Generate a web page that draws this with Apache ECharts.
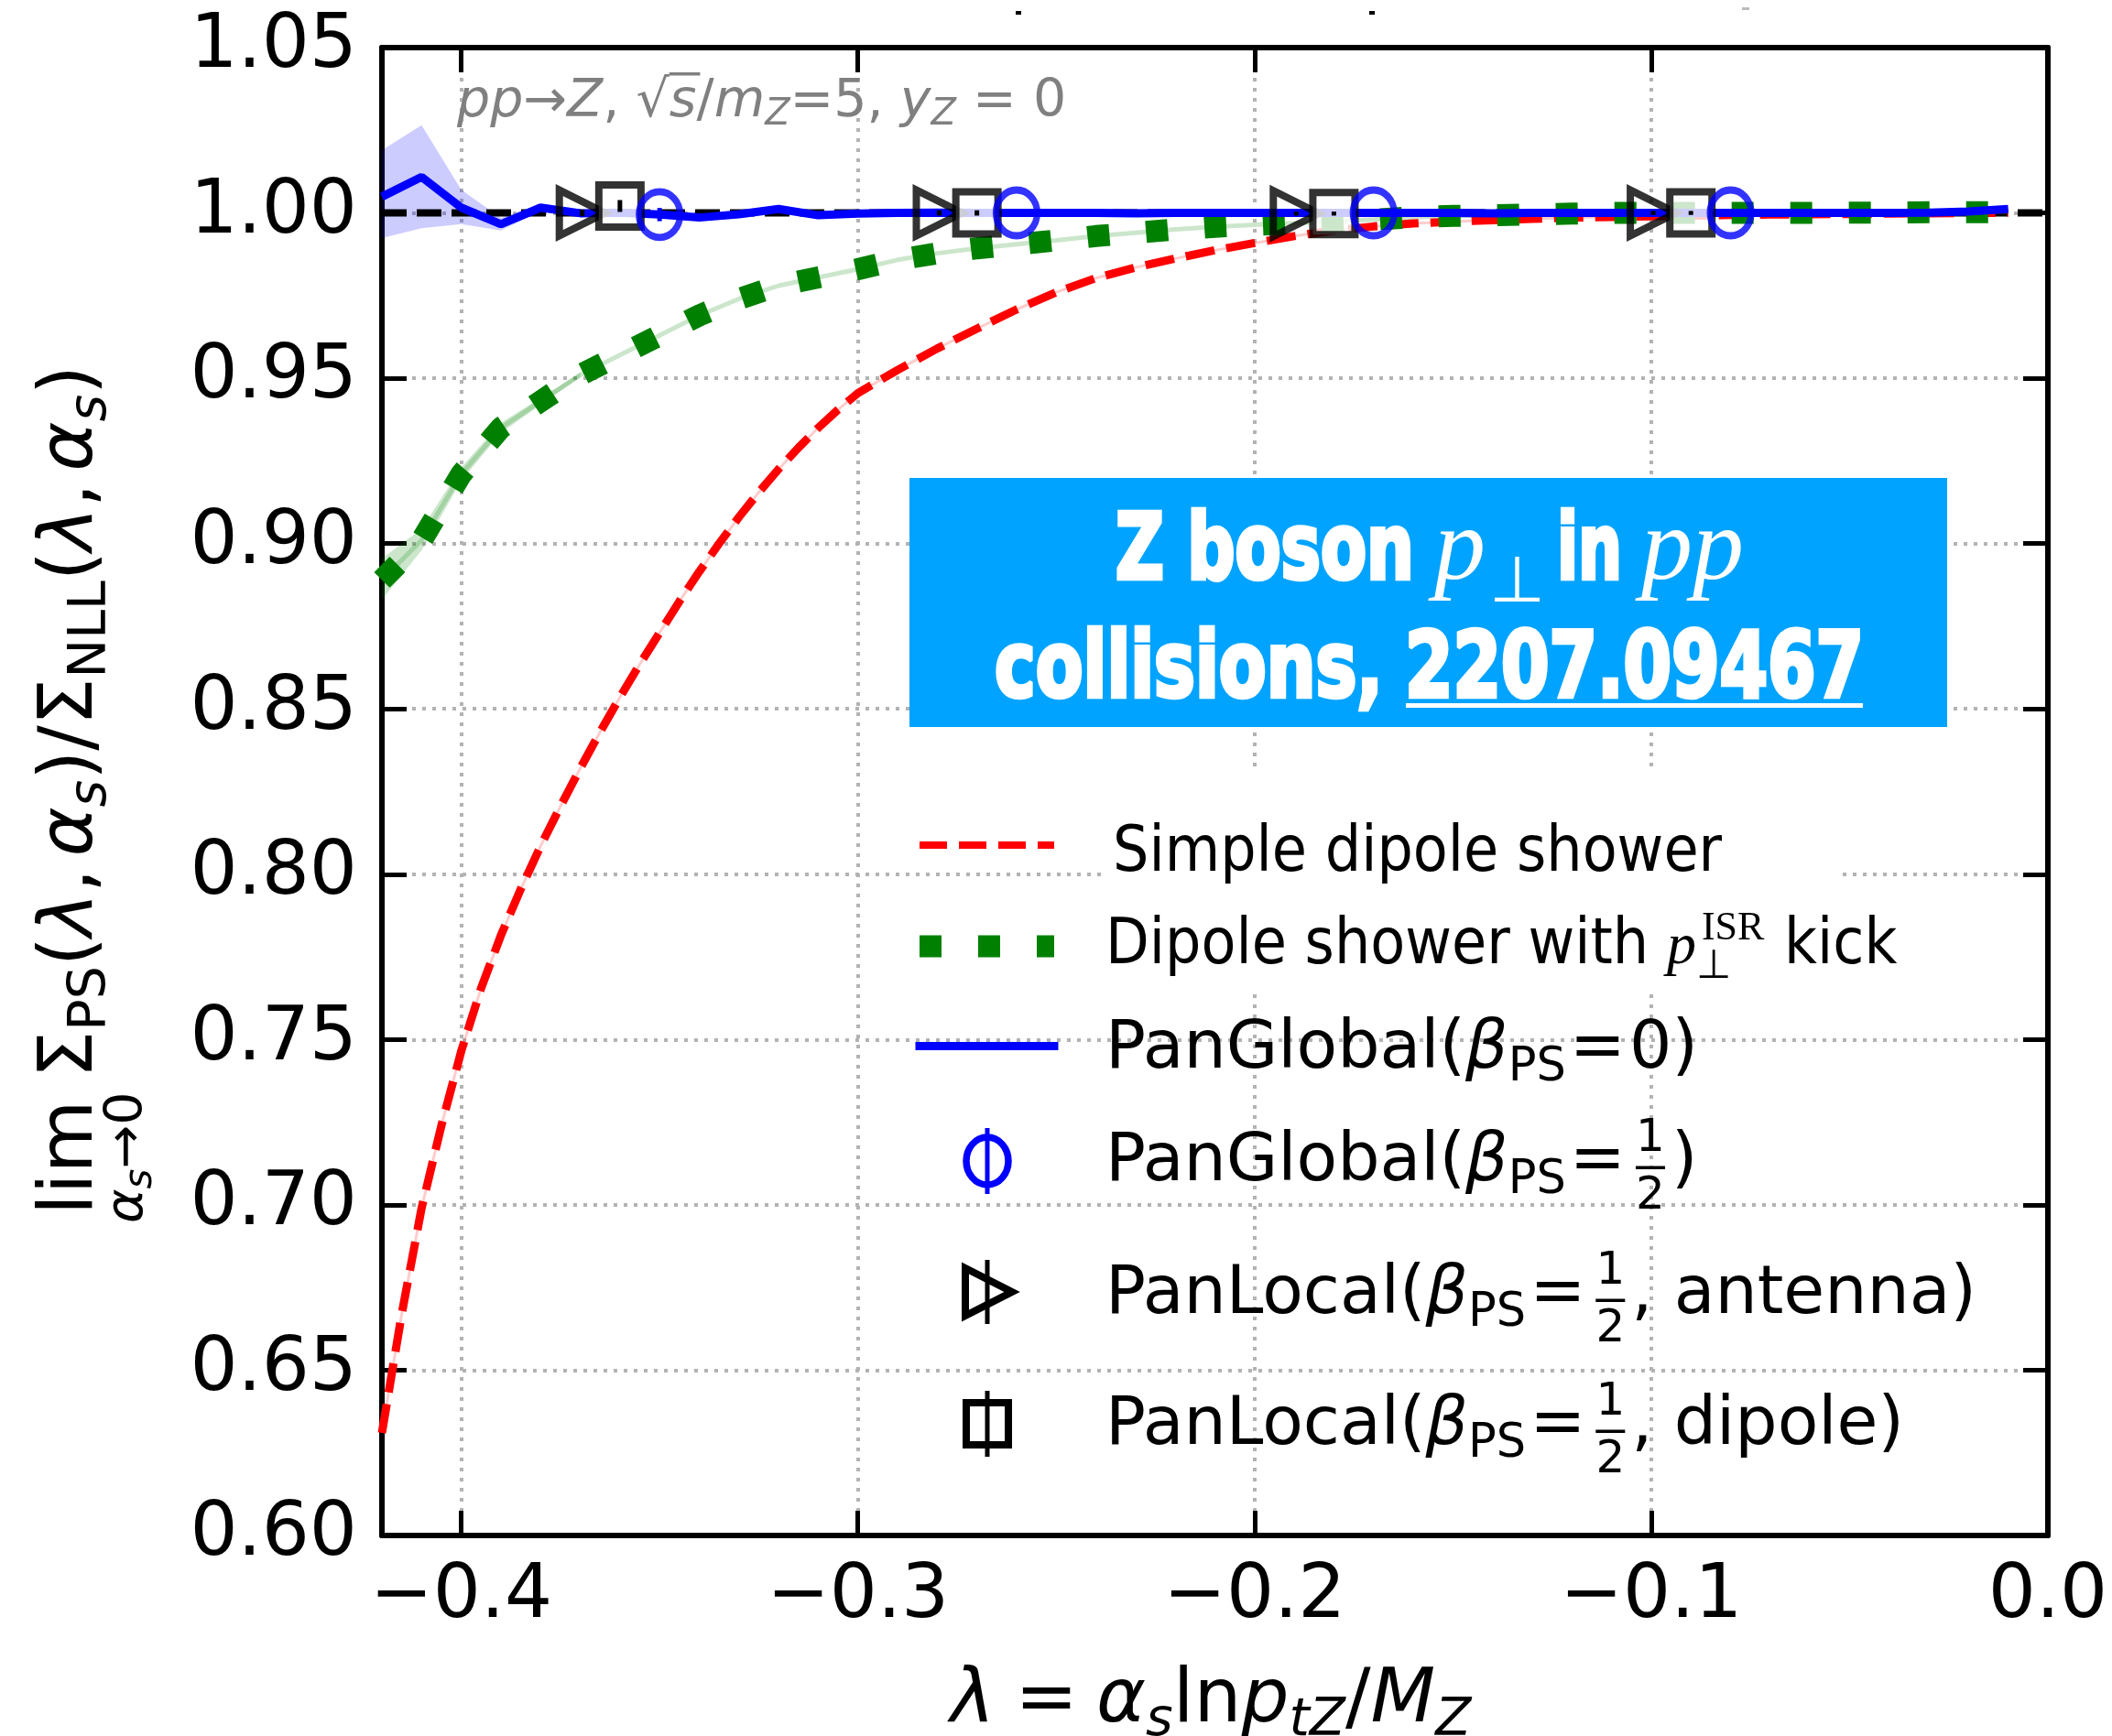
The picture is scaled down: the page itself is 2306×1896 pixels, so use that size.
<!DOCTYPE html>
<html>
<head>
<meta charset="utf-8">
<title>Z boson pT in pp collisions</title>
<script src="https://cdn.jsdelivr.net/npm/echarts@6.0.0/dist/echarts.min.js"></script>
<style>
  html, body { margin: 0; padding: 0; background: #fff; }
  #chart { width: 2306px; height: 1896px; }
</style>
</head>
<body>
<div id="chart"></div>
<script>
// ---------------------------------------------------------------------------
// Data: ratio of parton-shower to NLL cumulant as a function of lambda
// ---------------------------------------------------------------------------
const lambda = [
  -0.42, -0.41, -0.40, -0.39, -0.38, -0.37, -0.36, -0.35, -0.34, -0.33,
  -0.32, -0.31, -0.30, -0.29, -0.28, -0.27, -0.26, -0.25, -0.24, -0.23,
  -0.22, -0.21, -0.20, -0.19, -0.18, -0.17, -0.16, -0.15, -0.14, -0.13,
  -0.12, -0.11, -0.10, -0.09, -0.08, -0.07, -0.06, -0.05, -0.04, -0.03,
  -0.02, -0.01
];
const lambdaRange = [-0.42, 0.0];

// simple dipole shower: finer sampling where the curve is steep
const simpleLambda = [
  -0.420, -0.415, -0.410, -0.405, -0.400, -0.395, -0.390, -0.385, -0.380, -0.375,
  -0.370, -0.365, -0.360, -0.355, -0.350, -0.345, -0.340, -0.335, -0.330, -0.325,
  -0.320, -0.315, -0.310, -0.305, -0.300, -0.29, -0.28, -0.27, -0.26, -0.25,
  -0.24, -0.23, -0.22, -0.21, -0.20, -0.19, -0.18, -0.17, -0.16, -0.15,
  -0.14, -0.13, -0.12, -0.11, -0.10, -0.09, -0.08, -0.07, -0.06, -0.05,
  -0.04, -0.03, -0.02, -0.01
];
const simpleDipole = [
  0.631, 0.667, 0.699, 0.724, 0.7465, 0.7655, 0.7815, 0.7955, 0.8085, 0.8205,
  0.832, 0.843, 0.8535, 0.8635, 0.873, 0.8825, 0.8915, 0.900, 0.908, 0.9155,
  0.9225, 0.929, 0.935, 0.9405, 0.9455, 0.9525, 0.959, 0.965, 0.9708, 0.976,
  0.9803, 0.9835, 0.9862, 0.9887, 0.9909, 0.993, 0.9947, 0.9959, 0.9968, 0.9974,
  0.9978, 0.9982, 0.9986, 0.9988, 0.999, 0.9992, 0.9994, 0.9995, 0.9996, 0.9997,
  0.9998, 0.9999, 1.0, 1.0
];
const dipoleKick = [
  0.889, 0.901, 0.921, 0.935, 0.943, 0.951, 0.957, 0.963, 0.969, 0.974,
  0.978, 0.9805, 0.983, 0.9858, 0.9878, 0.9893, 0.9905, 0.9917, 0.993, 0.994,
  0.995, 0.9958, 0.9964, 0.9969, 0.9974, 0.998, 0.9987, 0.9991, 0.9993, 0.9995,
  0.9998, 1.0, 1.0, 1.0, 1.0, 1.0, 1.0, 1.0001, 1.0001, 1.0002,
  1.0002, 1.0003
];
// uncertainty band of the kicked dipole shower (first points only, negligible afterwards)
const dipoleKickLo = [0.883, 0.898, 0.919, 0.9335, 0.942, 0.9503];
const dipoleKickHi = [0.8955, 0.9045, 0.923, 0.9365, 0.944, 0.9517];

const panGlobal0 = [
  1.0049, 1.0109, 1.0016, 0.9966, 1.0016, 0.9999, 1.0001, 0.9995, 0.9986, 0.9996,
  1.0012, 0.9993, 0.9998, 1.0, 1.0001, 1.0, 1.0, 1.0, 1.0, 0.9999,
  1.0, 1.0, 1.0, 1.0, 1.0, 1.0, 1.0, 1.0, 0.9999, 1.0,
  1.0, 1.0, 1.0, 1.0, 1.0, 1.0, 1.0, 1.0, 1.0, 1.0001,
  1.0004, 1.0012
];
const panGlobal0Lo = [0.9924, 0.9954, 0.9966, 0.9947, 1.0006, 0.9992, 0.9995, 0.999];
const panGlobal0Hi = [1.019, 1.0265, 1.007, 0.9985, 1.0026, 1.0006, 1.0007, 1.0];

// single-lambda runs of the beta_PS = 1/2 showers
const panGlobalHalfX = [-0.35, -0.26, -0.17, -0.08];
const panGlobalHalfY = [0.9995, 1.0, 1.0, 1.0];
const panGlobalHalfErr = [0.002, 0.0008, 0.0006, 0.0006];
const panLocalAntX = [-0.3695, -0.2795, -0.1895, -0.0995];
const panLocalAntY = [1.0, 1.0, 0.9998, 1.0];
const panLocalAntErr = [0.001, 0.0008, 0.0006, 0.0006];
const panLocalDipX = [-0.36, -0.27, -0.18, -0.09];
const panLocalDipY = [1.0021, 1.0, 0.9998, 1.0];
const panLocalDipErr = [0.0018, 0.0008, 0.0006, 0.0006];

const unityLevel = 1.0;
const xTicks = [-0.4, -0.3, -0.2, -0.1, 0.0];

// ---------------------------------------------------------------------------
// Text helpers (mixed fonts, sub/superscripts)
// ---------------------------------------------------------------------------
const mctx = document.createElement('canvas').getContext('2d');
function fontCss(f) { return (f.style || 'normal') + ' ' + (f.weight || 'normal') + ' ' + f.size + 'px ' + f.family; }
function textWidth(t, f) { mctx.font = fontCss(f); return mctx.measureText(t).width; }
const midCache = {};
// distance from the 'middle' text baseline to the alphabetic baseline
function midToBase(f) {
  const key = fontCss(f);
  if (midCache[key] !== undefined) return midCache[key];
  const c = document.createElement('canvas'); c.width = 600; c.height = 600;
  const g = c.getContext('2d');
  g.font = key; g.textBaseline = 'middle'; g.fillStyle = '#000';
  g.fillText('HHxz', 20, 300);
  const d = g.getImageData(0, 0, 600, 600).data;
  let row = 300;
  outer: for (let y = 599; y >= 0; y--) {
    for (let x = 0; x < 600; x++) { if (d[(y * 600 + x) * 4 + 3] > 127) { row = y; break outer; } }
  }
  midCache[key] = row + 1 - 300;
  return midCache[key];
}
function layout(pieces, x0, base, fill, z) {
  let x = x0;
  const els = [], xs = [], ws = [];
  pieces.forEach(function (p) {
    const w = p.t ? textWidth(p.t, p.f) : 0;
    const px = x + (p.ox || 0);
    xs.push(px); ws.push(w);
    if (p.t) {
      els.push({
        type: 'text', silent: true, z: z,
        x: px, y: base + (p.dy || 0) - midToBase(p.f),
        style: { text: p.t, font: fontCss(p.f), fill: p.fill || fill, align: 'left', verticalAlign: 'middle' }
      });
    }
    if (!p.hold) x = px + w + (p.dx || 0);
  });
  return { els: els, xs: xs, ws: ws, width: x - x0 };
}

// fonts
const DV = "'DejaVu Sans'";
const M   = { family: DV, size: 82 };
const MI  = { family: DV, size: 82, style: 'italic' };
const S   = { family: DV, size: 57 };
const SI  = { family: DV, size: 57, style: 'italic' };
const SSI = { family: DV, size: 42, style: 'italic' };
const A   = { family: DV, size: 57 };
const AI  = { family: DV, size: 57, style: 'italic' };
const ASI = { family: DV, size: 40, style: 'italic' };
const COND = { family: "'DejaVu Sans Condensed', 'DejaVu Sans'", size: 69 };
const P   = { family: DV, size: 73 };
const PI  = { family: DV, size: 73, style: 'italic' };
const PS  = { family: DV, size: 51 };
const PF  = { family: DV, size: 50 };
const SERIF_I = { family: "'Liberation Serif'", size: 64, style: 'italic' };
const SERIF_S = { family: "'Liberation Serif'", size: 44 };
const BOX_B = { family: "'Liberation Sans Narrow', 'DejaVu Sans Condensed', 'DejaVu Sans'", size: 100, weight: 'bold' };
const BOX_I = { family: "'Liberation Serif'", size: 112, style: 'italic' };
const BOX_S = { family: "'Liberation Serif'", size: 70 };

const graphics = [];

// ---- x axis title:  λ = α_s ln p_tZ / M_Z
(function () {
  const pcs = [
    { t: 'λ', f: MI }, { t: '=', f: M, ox: 22, dx: 20 }, { t: 'α', f: MI }, { t: 's', f: SI, dy: 15 },
    { t: 'ln', f: M }, { t: 'p', f: MI }, { t: 'tZ', f: SI, dy: 15 }, { t: '/', f: M },
    { t: 'M', f: MI }, { t: 'Z', f: SI, dy: 15 }
  ];
  const w = layout(pcs, 0, 0, '#000', 60).width;
  graphics.push.apply(graphics, layout(pcs, 1322 - w / 2, 1880, '#000', 60).els);
})();

// ---- y axis title (rotated):  lim_{α_s→0} Σ_PS(λ, α_s) / Σ_NLL(λ, α_s)
(function () {
  const children = [];
  const lim = layout([{ t: 'lim', f: M }], 0, 0, '#000', 60);
  const subP = [{ t: 'α', f: SI }, { t: 's', f: SSI, dy: 10 }, { t: '→0', f: S }];
  const subW = layout(subP, 0, 0, '#000', 60).width;
  children.push.apply(children, lim.els);
  children.push.apply(children, layout(subP, (lim.width - subW) / 2, 55, '#000', 60).els);
  const main = [
    { t: 'Σ', f: M }, { t: 'PS', f: S, dy: 15 }, { t: '(', f: M }, { t: 'λ', f: MI }, { t: ',', f: M, dx: 13 },
    { t: 'α', f: MI }, { t: 's', f: SI, dy: 15 }, { t: ')/', f: M }, { t: 'Σ', f: M }, { t: 'NLL', f: S, dy: 15 },
    { t: '(', f: M }, { t: 'λ', f: MI }, { t: ',', f: M, dx: 13 }, { t: 'α', f: MI }, { t: 's', f: SI, dy: 15 },
    { t: ')', f: M }
  ];
  children.push.apply(children, layout(main, Math.max(lim.width, subW) + 6, 0, '#000', 60).els);
  graphics.push({ type: 'group', x: 100, y: 1327, rotation: Math.PI / 2, children: children });
})();

// ---- process annotation
(function () {
  const g = '#808080';
  const pcs = [
    { t: 'pp', f: AI }, { t: '→', f: A }, { t: 'Z', f: AI }, { t: ', ', f: A }, { t: '√', f: A },
    { t: 's', f: AI }, { t: '/', f: A }, { t: 'm', f: AI }, { t: 'Z', f: ASI, dy: 9 },
    { t: '=5, ', f: A }, { t: 'y', f: AI }, { t: 'Z', f: ASI, dy: 9 }, { t: ' = 0', f: A }
  ];
  const r = layout(pcs, 499, 127, g, 60);
  graphics.push.apply(graphics, r.els);
  const sx = r.xs[5], sw = r.ws[5];
  graphics.push({ type: 'rect', silent: true, z: 60, shape: { x: sx, y: 79, width: sw + 4, height: 3.5 }, style: { fill: g } });
})();

// ---- clipped title remnants along the top edge
graphics.push({ type: 'rect', silent: true, z: 60, shape: { x: 1109, y: 12, width: 6, height: 4 }, style: { fill: '#000' } });
graphics.push({ type: 'rect', silent: true, z: 60, shape: { x: 1495, y: 12, width: 6, height: 4 }, style: { fill: '#000' } });
graphics.push({ type: 'rect', silent: true, z: 60, shape: { x: 1902, y: 8, width: 8, height: 3 }, style: { fill: '#bbbbbb' } });

// ---- highlighted caption box
(function () {
  graphics.push({ type: 'rect', silent: true, z: 55, shape: { x: 993, y: 522, width: 1133, height: 272 }, style: { fill: '#00a3ff' } });
  function scaled(t, f, left, right, base) {
    const w = textWidth(t, f);
    return {
      type: 'text', silent: true, z: 60, x: left, y: base - midToBase(f), scaleX: (right - left) / w,
      style: { text: t, font: fontCss(f), fill: '#fff', stroke: '#fff', lineWidth: 4.5, align: 'left', verticalAlign: 'middle' }
    };
  }
  function plain(t, f, x, base) {
    return { type: 'text', silent: true, z: 60, x: x, y: base - midToBase(f),
      style: { text: t, font: fontCss(f), fill: '#fff', align: 'left', verticalAlign: 'middle' } };
  }
  graphics.push(scaled('Z boson', BOX_B, 1218, 1544, 632));
  graphics.push(plain('p', BOX_I, 1566, 632));
  graphics.push(plain('⊥', BOX_S, 1626, 657));
  graphics.push(scaled('in', BOX_B, 1700, 1771, 632));
  graphics.push(plain('pp', BOX_I, 1792, 632));
  graphics.push(scaled('collisions,', BOX_B, 1086, 1510, 761));
  graphics.push(scaled('2207.09467', BOX_B, 1534, 2035, 761));
  graphics.push({ type: 'rect', silent: true, z: 60, shape: { x: 1535, y: 768, width: 499, height: 5 }, style: { fill: '#fff' } });
})();

// ---- legend
(function () {
  const LEG_X = 1207;
  const rows = [951, 1052, 1166, 1289, 1434, 1577];
  graphics.push({ type: 'rect', silent: true, z: 40, shape: { x: 1207, y: 840, width: 798, height: 243 }, style: { fill: '#fff' } });
  function row(base, before, after) {
    const a = layout(before, LEG_X, base, '#000', 60);
    graphics.push.apply(graphics, a.els);
    if (!after) return;
    const barW = 32, gap = 7;
    const bx = LEG_X + a.width + gap;
    graphics.push.apply(graphics, layout([{ t: '1', f: PF }], bx + (barW - textWidth('1', PF)) / 2, base - 31.5, '#000', 60).els);
    graphics.push.apply(graphics, layout([{ t: '2', f: PF }], bx + (barW - textWidth('2', PF)) / 2, base + 31, '#000', 60).els);
    graphics.push({ type: 'rect', silent: true, z: 60, shape: { x: bx, y: base - 15.5, width: barW, height: 3.5 }, style: { fill: '#000' } });
    graphics.push.apply(graphics, layout(after, bx + barW + gap, base, '#000', 60).els);
  }
  const beta = function (name) {
    return [{ t: name, f: P }, { t: 'β', f: PI }, { t: 'PS', f: PS, dy: 14, dx: 4 }, { t: '=', f: P, dx: 4 }];
  };
  row(rows[0], [{ t: 'Simple dipole shower', f: COND, ox: 8 }]);
  row(rows[1], [{ t: 'Dipole shower with ', f: COND }, { t: 'p', f: SERIF_I },
    { t: '⊥', f: SERIF_S, dy: 16, hold: true }, { t: 'ISR', f: SERIF_S, dy: -26, ox: 6, dx: 2 }, { t: ' kick', f: COND }]);
  row(rows[2], beta('PanGlobal(').concat([{ t: '0', f: P }, { t: ')', f: P }]));
  row(rows[3], beta('PanGlobal('), [{ t: ')', f: P }]);
  row(rows[4], beta('PanLocal('), [{ t: ', antenna)', f: P }]);
  row(rows[5], beta('PanLocal('), [{ t: ', dipole)', f: P }]);

  // handles
  graphics.push({ type: 'line', silent: true, z: 60, shape: { x1: 1004, y1: 923, x2: 1151, y2: 923 },
    style: { stroke: '#ff0000', lineWidth: 8, lineDash: [30, 13] } });
  graphics.push({ type: 'line', silent: true, z: 60, shape: { x1: 1004, y1: 1033.5, x2: 1151, y2: 1033.5 },
    style: { stroke: '#008000', lineWidth: 24, lineDash: [24, 40] } });
  graphics.push({ type: 'line', silent: true, z: 60, shape: { x1: 999.5, y1: 1142.5, x2: 1155.5, y2: 1142.5 },
    style: { stroke: '#0000ff', lineWidth: 9 } });
  graphics.push({ type: 'ellipse', silent: true, z: 60, shape: { cx: 1078, cy: 1268, rx: 23, ry: 26 },
    style: { fill: 'none', stroke: '#0000ff', lineWidth: 7.5 } });
  graphics.push({ type: 'line', silent: true, z: 61, shape: { x1: 1078, y1: 1232, x2: 1078, y2: 1304 },
    style: { stroke: '#0000ff', lineWidth: 5 } });
  graphics.push({ type: 'polygon', silent: true, z: 60, shape: { points: [[1054, 1385], [1105, 1411], [1054, 1437]] },
    style: { fill: 'none', stroke: '#000', lineWidth: 8, lineJoin: 'miter' } });
  graphics.push({ type: 'line', silent: true, z: 61, shape: { x1: 1078, y1: 1376, x2: 1078, y2: 1446 },
    style: { stroke: '#000', lineWidth: 5 } });
  graphics.push({ type: 'rect', silent: true, z: 60, shape: { x: 1055, y: 1532, width: 46, height: 46 },
    style: { fill: '#fff', stroke: '#000', lineWidth: 8 } });
  graphics.push({ type: 'line', silent: true, z: 61, shape: { x1: 1078, y1: 1519, x2: 1078, y2: 1591 },
    style: { stroke: '#000', lineWidth: 5 } });
})();

// ---------------------------------------------------------------------------
// Chart
// ---------------------------------------------------------------------------
const pairs = function (xs, ys) { return xs.map(function (x, i) { return [x, ys[i]]; }); };
const bandSeries = function (name, xs, lo, hi, color, z) {
  return {
    type: 'custom', name: name, z: z, silent: true, clip: true, data: [[xs[0], lo[0]]],
    renderItem: function (params, api) {
      const pts = [];
      for (let i = 0; i < hi.length; i++) pts.push(api.coord([xs[i], hi[i]]));
      for (let i = lo.length - 1; i >= 0; i--) pts.push(api.coord([xs[i], lo[i]]));
      return { type: 'polygon', shape: { points: pts }, style: { fill: color } };
    }
  };
};
const errSeries = function (name, xs, ys, es, color) {
  return {
    type: 'custom', name: name, z: 9, silent: true,
    data: xs.map(function (x, i) { return [x, ys[i] - es[i], ys[i] + es[i]]; }),
    renderItem: function (params, api) {
      const p1 = api.coord([api.value(0), api.value(1)]);
      const p2 = api.coord([api.value(0), api.value(2)]);
      return { type: 'line', shape: { x1: p1[0], y1: p1[1], x2: p2[0], y2: p2[1] }, style: { stroke: color, lineWidth: 5 } };
    }
  };
};

const axisCommon = {
  type: 'value',
  axisLine: { show: true, onZero: false, lineStyle: { color: '#000', width: 6 } },
  axisTick: { show: true, inside: true, length: 27, lineStyle: { color: '#000', width: 5 } },
  splitLine: { show: false }
};
const gridLine = { show: true, lineStyle: { color: '#b3b3b3', width: 4, type: [4, 7] } };
const tickFont = { color: '#000', fontFamily: 'DejaVu Sans', fontSize: 82, lineHeight: 82 };

const option = {
  animation: false,
  backgroundColor: '#ffffff',
  grid: { left: 417, top: 52, width: 1819, height: 1625, containLabel: false },
  xAxis: [
    Object.assign({}, axisCommon, {
      min: lambdaRange[0], max: lambdaRange[1], position: 'bottom',
      axisTick: Object.assign({}, axisCommon.axisTick, { customValues: xTicks }),
      axisLabel: Object.assign({ show: true, margin: 27, customValues: xTicks,
        formatter: function (v) { return (v < 0 ? '\u2212' : '') + Math.abs(v).toFixed(1); } }, tickFont),
      splitLine: gridLine
    }),
    Object.assign({}, axisCommon, {
      min: lambdaRange[0], max: lambdaRange[1], position: 'top',
      axisTick: Object.assign({}, axisCommon.axisTick, { customValues: xTicks }),
      axisLabel: { show: false }
    })
  ],
  yAxis: [
    Object.assign({}, axisCommon, {
      min: 0.6, max: 1.05, interval: 0.05, position: 'left',
      axisLabel: Object.assign({ show: true, margin: 27, formatter: function (v) { return v.toFixed(2); } }, tickFont),
      splitLine: gridLine
    }),
    Object.assign({}, axisCommon, {
      min: 0.6, max: 1.05, interval: 0.05, position: 'right',
      axisLabel: { show: false }
    })
  ],
  graphic: { elements: graphics },
  series: [
    // uncertainty bands
    bandSeries('kick band', lambda, dipoleKickLo, dipoleKickHi, 'rgba(0,128,0,0.2)', 2),
    bandSeries('global band', lambda, panGlobal0Lo, panGlobal0Hi, 'rgba(0,0,255,0.2)', 2),
    // NLL reference
    { type: 'line', name: 'unity', z: 3, silent: true, showSymbol: false,
      data: lambdaRange.map(function (x) { return [x, unityLevel]; }),
      lineStyle: { color: '#000', width: 8, type: [27, 11], cap: 'butt' } },
    // simple dipole shower
    { type: 'line', name: 'simple band', z: 3, data: pairs(simpleLambda, simpleDipole), showSymbol: false, silent: true,
      lineStyle: { color: 'rgba(255,0,0,0.2)', width: 3 } },
    { type: 'line', name: 'Simple dipole shower', z: 4, data: pairs(simpleLambda, simpleDipole), showSymbol: false, silent: true,
      lineStyle: { color: '#ff0000', width: 9, type: [32, 13], cap: 'butt' } },
    // dipole shower with kick
    { type: 'line', name: 'kick line', z: 3, data: pairs(lambda, dipoleKick), showSymbol: false, silent: true,
      lineStyle: { color: 'rgba(0,128,0,0.2)', width: 5 } },
    { type: 'line', name: 'Dipole shower with kick', z: 5, data: pairs(lambda, dipoleKick), showSymbol: false, silent: true,
      lineStyle: { color: '#008000', width: 24, type: [24, 40], cap: 'butt' } },
    // PanGlobal beta = 0
    { type: 'line', name: 'PanGlobal(beta=0)', z: 6, data: pairs(lambda, panGlobal0), showSymbol: false, silent: true,
      lineStyle: { color: '#0000ff', width: 9 } },
    // single points
    { type: 'scatter', name: 'PanLocal antenna', z: 7, silent: true, data: pairs(panLocalAntX, panLocalAntY),
      symbol: 'triangle', symbolRotate: -90, symbolSize: 50,
      itemStyle: { color: 'rgba(0,0,0,0)', borderColor: '#000', borderWidth: 8 } },
    { type: 'scatter', name: 'PanLocal dipole', z: 8, silent: true, data: pairs(panLocalDipX, panLocalDipY),
      symbol: 'rect', symbolSize: 46,
      itemStyle: { color: '#ffffff', borderColor: '#000', borderWidth: 8 } },
    { type: 'scatter', name: 'PanGlobal half', z: 8, silent: true, data: pairs(panGlobalHalfX, panGlobalHalfY),
      symbol: 'circle', symbolSize: [45, 50],
      itemStyle: { color: 'rgba(0,0,0,0)', borderColor: '#0000ff', borderWidth: 7.5 } },
    errSeries('antenna err', panLocalAntX, panLocalAntY, panLocalAntErr, '#000'),
    errSeries('dipole err', panLocalDipX, panLocalDipY, panLocalDipErr, '#000'),
    errSeries('global err', panGlobalHalfX, panGlobalHalfY, panGlobalHalfErr, '#0000ff')
  ]
};

const chart = echarts.init(document.getElementById('chart'), null, { renderer: 'canvas', width: 2306, height: 1896 });
chart.setOption(option);
</script>
</body>
</html>
